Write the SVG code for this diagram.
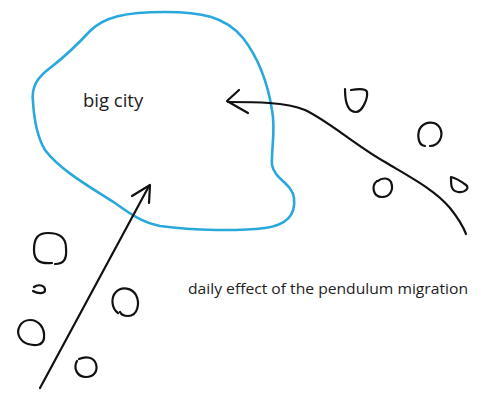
<svg xmlns="http://www.w3.org/2000/svg" width="477" height="394" viewBox="0 0 477 394">
<style>
.ink{fill:none;stroke:#111;stroke-width:2.2;stroke-linecap:round;stroke-linejoin:round}
.city{fill:none;stroke:#29a8dc;stroke-width:2.6;stroke-linejoin:round}
.lbl{font-family:"Open Sans","Liberation Sans",sans-serif;fill:#1e1c1d}
</style>
<rect width="477" height="394" fill="#fff"/>
<g id="big-city">
<path class="city" d="M33,102 C31,86 38,77 50,68 C63,58 78,44 90,31 C104,17 125,12 165,12 C200,12 225,16 243,38 C260,60 268,85 272,110 C276,130 271,150 272,165 C275,180 292,183 294,198 C296,215 287,225 265,228 C240,231 195,231 160,226 C140,222 128,212 115,203 C90,187 60,170 45,150 C36,135 34,118 33,102 Z"/>
<text class="lbl" x="83" y="107" font-size="18.5">big city</text>
</g>
<g id="caption">
<text class="lbl" x="188" y="294" font-size="14.5" textLength="280" lengthAdjust="spacingAndGlyphs">daily effect of the pendulum migration</text>
</g>
<g id="dots-right">
<path class="ink" d="M345,89 C345,100 347,112 356,112 C362,112 368,99 367,92 C366,88 357,89 351,90"/>
<path class="ink" d="M425,146 C417,145 417,132 421,127 C426,121 436,121 440,128 C444,136 439,146 430,146"/>
<path class="ink" d="M377,181 C371,186 373,197 382,197 C390,197 394,190 391,182 C388,177 381,178 378,181"/>
<path class="ink" d="M451,178 C451,185 451,191 458,192 C465,193 470,188 466,185 C462,182 456,178 451,177 Z"/>
</g>
<g id="dots-left">
<path class="ink" d="M52,263 C40,264 34,261 34,250 C34,238 38,233 48,233 C58,233 66,236 66,248 C67,259 64,264 55,264"/>
<path class="ink" d="M34,287 C38,284 45,285 45,290 C45,294 38,294 33,291"/>
<path class="ink" d="M118,313 C111,308 111,297 116,292 C122,286 132,288 136,295 C140,303 138,316 128,316 C124,316 121,314 120,312"/>
<path class="ink" d="M20,338 C15,330 21,320 30,320 C39,320 45,328 44,338 C43,346 35,346 28,344 C24,343 22,341 20,338 Z"/>
<path class="ink" d="M77,361 C73,368 77,377 86,377 C94,377 98,371 96,364 C94,357 86,356 79,359"/>
</g>
<g id="connectors">
<path class="ink" d="M40,388 L149,186"/>
<path class="ink" d="M132,196 L150,185 L149,203"/>
<path class="ink" d="M228,102 C255,102 285,102 305,110 C330,122 355,145 385,162 C410,177 435,190 450,208 C458,218 463,226 466,234"/>
<path class="ink" d="M239,90 L227,101 L248,113"/>
</g>
</svg>
